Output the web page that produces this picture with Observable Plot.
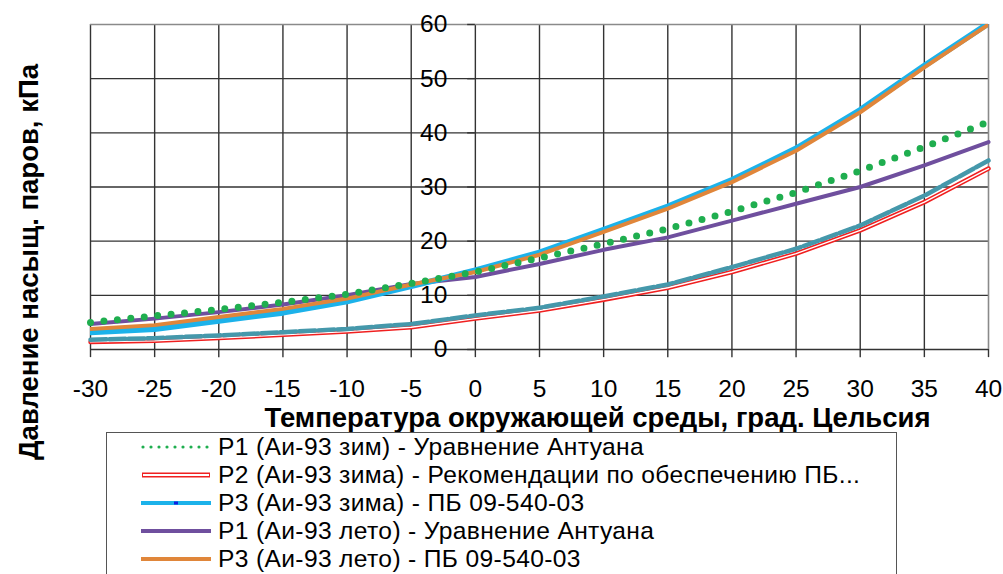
<!DOCTYPE html>
<html><head><meta charset="utf-8">
<script src="https://cdn.jsdelivr.net/npm/d3@7"></script>
<script src="https://cdn.jsdelivr.net/npm/@observablehq/plot@0.6"></script>
<style>
html,body{margin:0;padding:0;overflow:hidden;background:#fff;width:1003px;height:574px}
#wrap{position:relative;width:1003px;height:574px;font-family:"Liberation Sans",Arial,sans-serif}
#chart svg{overflow:visible}
#legend{position:absolute;left:106px;top:432px;width:791px;height:200px;border:1.5px solid #555;box-sizing:border-box;background:#fff}
.row{position:absolute;left:0;height:28px;width:780px}
.row svg{position:absolute;left:34px;top:8px}
.row span{position:absolute;left:111px;top:0;line-height:28px;font-size:24.6px;letter-spacing:0.35px;color:#000;white-space:nowrap}
</style>
</head><body><div id="wrap"><div id="chart"></div><div id="legend"></div></div>
<script>
const temps = [-30,-25,-20,-15,-10,-5,0,5,10,15,20,25,30,35,40];
const p1Winter = [5.0,6.2,7.4,8.7,10.2,12.2,14.3,16.9,19.5,22.3,25.5,29.0,33.0,37.4,42.0];
const p2Winter = [1.4,1.6,2.1,2.7,3.3,4.1,5.7,7.2,9.2,11.4,14.3,17.7,22.0,27.2,33.4];
const p3Winter = [3.2,3.8,5.3,6.8,8.9,11.7,14.6,17.9,22.1,26.4,31.3,37.1,44.2,52.4,60.2];
const p1Summer = [4.7,5.7,6.9,8.3,10.0,12.1,13.4,15.8,18.4,20.7,23.8,26.9,30.0,34.0,38.3];
const p3Summer = [3.8,4.5,6.0,7.5,9.4,12.0,14.3,17.5,21.7,26.0,30.9,36.7,43.8,52.1,60.0];
const p2Summer = [1.8,2.1,2.6,3.2,3.8,4.7,6.3,7.7,9.8,12.0,15.2,18.6,22.9,28.4,34.9];
const xTicks = [-30,-25,-20,-15,-10,-5,0,5,10,15,20,25,30,35,40];
const yTicks = [0,10,20,30,40,50,60];
const legendLabels = [
  "Р1 (Аи-93 зим) - Уравнение Антуана",
  "Р2 (Аи-93 зима) - Рекомендации по обеспечению ПБ...",
  "Р3 (Аи-93 зима) - ПБ 09-540-03",
  "Р1 (Аи-93 лето) - Уравнение Антуана",
  "Р3 (Аи-93 лето) - ПБ 09-540-03"
];
const xTitle = "Температура окружающей среды, град. Цельсия";
const yTitle = "Давление насыщ. паров, кПа";

const C = {green:"#1fae4f", red:"#f02020", cyan:"#1cb2ea", purple:"#6f4f9e", orange:"#e0863a", teal:"#4598ab", grid:"#333", frame:"#8a8a8a"};
const rows = (vals) => temps.map((t,i) => ({t, v: vals[i]}));

const plot = Plot.plot({
  width: 1003, height: 432,
  marginLeft: 90, marginRight: 15, marginTop: 24, marginBottom: 83,
  x: {domain: [-30, 40], axis: null},
  y: {domain: [0, 60], axis: null},
  style: {fontFamily: '"Liberation Sans", Arial, sans-serif', overflow: "visible"},
  marks: [
    Plot.ruleX(xTicks.filter(d => d < 40), {stroke: C.grid, strokeWidth: 1.4, strokeOpacity: 1}),
    Plot.ruleY(yTicks.filter(d => d < 60), {stroke: C.grid, strokeWidth: 1.4, strokeOpacity: 1}),
    Plot.ruleX([40], {stroke: C.frame, strokeWidth: 1.6}),
    Plot.ruleY([60], {stroke: C.frame, strokeWidth: 1.6}),
    Plot.ruleX(xTicks, {y1: 0, y2: -1.5, stroke: C.grid, strokeWidth: 1.4}),
    Plot.ruleY(yTicks, {x1: -0.6, x2: 0, stroke: C.grid, strokeWidth: 1.4}),
    Plot.line(rows(p2Winter), {x: "t", y: "v", stroke: C.red, strokeWidth: 4.5}),
    Plot.line(rows(p2Winter), {x: "t", y: "v", stroke: "#fff", strokeWidth: 1.4}),
    Plot.line(rows(p2Summer), {x: "t", y: "v", stroke: C.teal, strokeWidth: 4.5, strokeDasharray: "16 3"}),
    Plot.line(rows(p1Summer), {x: "t", y: "v", stroke: C.purple, strokeWidth: 4}),
    Plot.line(rows(p3Winter), {x: "t", y: "v", stroke: C.cyan, strokeWidth: 6, clip: true}),
    Plot.line(rows(p3Summer), {x: "t", y: "v", stroke: C.orange, strokeWidth: 4, clip: true}),
    Plot.line(rows(p1Winter), {x: "t", y: "v", stroke: C.green, strokeWidth: 7, strokeDasharray: "0 13.5", strokeLinecap: "round"}),
    Plot.text(xTicks, {x: d => d, text: d => String(d), frameAnchor: "bottom", dy: 40, lineAnchor: "middle", textAnchor: "middle", fontSize: 24.5, fill: "#000"}),
    Plot.text(yTicks, {x: 0, y: d => d, text: d => String(d), dx: -28, textAnchor: "end", lineAnchor: "middle", fontSize: 24.5, fill: "#000"}),
    Plot.text([xTitle], {frameAnchor: "bottom", dx: 58, dy: 69, textAnchor: "middle", lineAnchor: "middle", fontSize: 27.5, fontWeight: "bold", fill: "#000"}),
    Plot.text([yTitle], {frameAnchor: "left", dx: -61, dy: 75, rotate: -90, textAnchor: "middle", lineAnchor: "middle", fontSize: 27.5, fontWeight: "bold", fill: "#000"})
  ]
});
document.getElementById("chart").appendChild(plot);

// legend
const swatches = [
  s => `<line x1="2" y1="6" x2="68" y2="6" stroke="${C.green}" stroke-width="3.2" stroke-dasharray="0 8" stroke-linecap="round"/>`,
  s => `<line x1="1" y1="6" x2="69" y2="6" stroke="${C.red}" stroke-width="5"/><line x1="2" y1="6" x2="68" y2="6" stroke="#fff" stroke-width="2"/>`,
  s => `<line x1="0" y1="6" x2="70" y2="6" stroke="${C.cyan}" stroke-width="4"/><rect x="33" y="4.5" width="4" height="3" fill="#1020e0"/>`,
  s => `<line x1="0" y1="6" x2="70" y2="6" stroke="${C.purple}" stroke-width="4"/>`,
  s => `<line x1="0" y1="6" x2="70" y2="6" stroke="${C.orange}" stroke-width="4"/>`
];
const legend = document.getElementById("legend");
legendLabels.forEach((lab, i) => {
  const r = document.createElement("div");
  r.className = "row";
  r.style.top = (0 + i * 28) + "px";
  r.innerHTML = `<svg width="70" height="12">${swatches[i]()}</svg><span>${lab}</span>`;
  legend.appendChild(r);
});
</script></body></html>
